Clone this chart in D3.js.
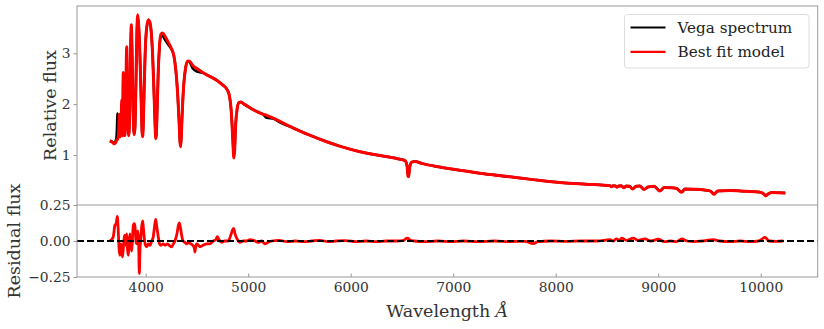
<!DOCTYPE html>
<html>
<head>
<meta charset="utf-8">
<script src="https://cdn.jsdelivr.net/npm/d3@7"></script>
<style>
  body { margin:0; background:#fff; }
  text { font-family:"DejaVu Serif", serif; fill:#333; }
  .ticklabel { font-size:13.8px; }
  .axislabel { font-size:17.5px; }
  .legendlabel { font-size:15.2px; fill:#222; }
</style>
</head>
<body>
<div id="chart"></div>
<script>
// model spectrum (best fit), wavelength in Angstrom
const modelWave = [3650,3665,3680,3692,3705,3718,3730,3738,3742,3746,3752,3760,3766,3771,3776,3781,3788,3796,3805,3815,3822,3830,3836,3843,3850,3860,3868,3876,3883,3889,3896,3905,3914,3922,3930,3940,3950,3958,3965,3970,3976,3985,3995,4008,4025,4040,4055,4068,4080,4090,4098,4104,4112,4122,4135,4150,4165,4190,4220,4250,4275,4295,4312,4325,4335,4340,4346,4356,4370,4390,4410,4430,4460,4500,4550,4600,4650,4700,4750,4790,4815,4835,4850,4858,4862,4868,4878,4892,4910,4930,4960,5000,5050,5100,5150,5180,5250,5310,5440,5600,5766,5900,6091,6300,6481,6530,6550,6560,6565,6575,6595,6627,6700,6850,7066,7300,7554,7800,8066,8300,8500,8530,8545,8560,8585,8598,8615,8640,8665,8690,8720,8750,8785,8820,8862,8900,8960,9015,9060,9120,9180,9229,9260,9350,9450,9510,9546,9580,9700,9850,9980,10030,10049,10070,10110,10180,10240];
const modelFlux = [1.27,1.26,1.24,1.22,1.24,1.29,1.33,1.55,1.80,1.45,1.36,1.50,2.08,1.45,1.38,2.62,1.45,1.38,2.00,3.13,2.20,1.45,1.38,1.80,2.70,3.56,2.90,2.00,1.50,1.40,1.55,2.40,3.40,3.76,3.60,3.20,2.55,1.90,1.45,1.36,1.55,2.30,3.00,3.48,3.66,3.62,3.40,2.95,2.30,1.70,1.32,1.40,1.90,2.60,3.15,3.38,3.40,3.33,3.22,3.10,2.95,2.65,2.20,1.70,1.25,1.16,1.30,1.80,2.35,2.72,2.85,2.84,2.76,2.70,2.63,2.57,2.52,2.46,2.38,2.30,2.18,1.85,1.30,0.97,0.94,1.10,1.60,1.90,2.03,2.04,2.00,1.95,1.89,1.84,1.80,1.78,1.72,1.66,1.53,1.39,1.26,1.17,1.065,0.985,0.915,0.89,0.78,0.58,0.57,0.75,0.86,0.87,0.83,0.77,0.70,0.63,0.57,0.51,0.455,0.425,0.40,0.395,0.375,0.395,0.39,0.365,0.39,0.395,0.355,0.39,0.385,0.33,0.385,0.39,0.32,0.37,0.385,0.29,0.36,0.355,0.34,0.265,0.33,0.325,0.31,0.29,0.225,0.29,0.30,0.285,0.27,0.235,0.195,0.23,0.26,0.255,0.25];

// observed Vega spectrum
const vegaWave = [3650,3665,3680,3692,3705,3714,3720,3724,3728,3738,3746,3752,3760,3766,3771,3776,3781,3788,3796,3805,3815,3822,3830,3836,3843,3850,3860,3868,3876,3883,3889,3896,3905,3914,3922,3930,3940,3950,3958,3965,3970,3976,3985,3995,4008,4025,4040,4055,4068,4080,4090,4098,4104,4112,4122,4135,4150,4165,4190,4220,4250,4275,4295,4312,4325,4335,4340,4346,4356,4370,4390,4410,4430,4460,4500,4550,4600,4650,4700,4750,4790,4815,4835,4850,4858,4862,4868,4878,4892,4910,4930,4960,5000,5050,5100,5150,5180,5250,5310,5440,5600,5766,5900,6091,6300,6481,6530,6550,6560,6565,6575,6595,6627,6700,6850,7066,7300,7554,7800,8066,8300,8500,8530,8545,8560,8585,8598,8615,8640,8665,8690,8720,8750,8785,8820,8862,8900,8960,9015,9060,9120,9180,9229,9260,9350,9450,9510,9546,9580,9700,9850,9980,10030,10049,10070,10110,10180,10240];
const vegaFlux = [1.28,1.27,1.25,1.24,1.27,1.33,1.55,1.82,1.42,1.40,1.42,1.41,1.44,2.00,1.46,1.42,2.55,1.46,1.42,1.95,3.05,2.20,1.46,1.40,1.80,2.70,3.50,2.95,2.00,1.50,1.42,1.55,2.40,3.35,3.70,3.58,3.20,2.55,1.90,1.46,1.38,1.55,2.30,3.00,3.46,3.62,3.60,3.40,2.95,2.30,1.70,1.34,1.40,1.90,2.60,3.12,3.33,3.34,3.26,3.17,3.08,2.95,2.65,2.20,1.70,1.26,1.18,1.30,1.80,2.35,2.72,2.84,2.82,2.70,2.64,2.62,2.57,2.52,2.46,2.38,2.30,2.18,1.85,1.32,1.02,0.99,1.12,1.60,1.90,2.03,2.04,2.00,1.95,1.89,1.84,1.79,1.73,1.71,1.64,1.53,1.39,1.26,1.17,1.065,0.985,0.915,0.89,0.79,0.60,0.59,0.75,0.86,0.87,0.83,0.77,0.70,0.63,0.57,0.51,0.455,0.425,0.40,0.395,0.38,0.395,0.39,0.37,0.39,0.395,0.36,0.39,0.385,0.335,0.385,0.39,0.325,0.37,0.385,0.295,0.36,0.355,0.34,0.27,0.33,0.325,0.31,0.29,0.23,0.29,0.30,0.285,0.27,0.235,0.20,0.23,0.26,0.255,0.25];

// residual flux
const resWave = [3651,3668,3684,3700,3712,3723,3732,3740,3749,3757,3766,3773,3781,3790,3798,3806,3815,3823,3831,3839,3847,3856,3864,3872,3880,3888,3896,3905,3913,3922,3930,3938,3945,3951,3961,3971,3979,3988,3998,4010,4025,4042,4058,4074,4088,4098,4108,4123,4135,4150,4170,4190,4210,4230,4254,4270,4286,4305,4320,4328,4340,4351,4365,4383,4400,4416,4440,4460,4475,4481,4488,4498,4515,4530,4560,4595,4625,4660,4685,4699,4715,4741,4770,4806,4830,4850,4858,4872,4888,4905,4920,4950,4985,5020,5050,5080,5099,5130,5164,5190,5230,5300,5380,5460,5540,5620,5700,5780,5860,5950,6050,6150,6250,6350,6450,6520,6546,6562,6580,6620,6720,6850,6980,7100,7250,7400,7550,7700,7781,7830,7950,8100,8250,8400,8480,8530,8560,8590,8620,8644,8690,8757,8800,8871,8930,9001,9060,9120,9180,9229,9280,9350,9430,9538,9600,9700,9800,9900,9980,10042,10080,10150,10218];
const resFlux = [0,0.01,0.03,0.11,0.12,0.17,0.08,-0.05,-0.10,-0.02,-0.05,-0.11,-0.06,0.02,0.04,-0.03,0.05,-0.06,-0.10,0.00,0.05,-0.03,-0.07,0.03,0.11,0.12,0.10,0.00,-0.02,0.07,0.02,-0.226,-0.05,0.00,0.10,0.14,0.08,0.01,-0.03,-0.04,-0.02,-0.03,0.00,0.03,0.11,0.15,0.10,0.03,-0.02,-0.03,-0.02,-0.03,-0.02,-0.03,-0.04,-0.02,0.00,0.05,0.11,0.125,0.09,0.04,0.00,-0.01,-0.02,-0.01,-0.02,-0.03,-0.05,-0.077,-0.04,-0.02,-0.03,-0.04,-0.03,-0.02,-0.02,0.00,0.01,0.03,0.01,-0.01,0.00,0.00,0.04,0.08,0.087,0.05,0.02,0.00,-0.01,0.00,0.00,0.01,0.005,-0.005,-0.01,0.00,-0.02,-0.01,0.00,0.005,-0.005,0.00,-0.005,0.00,0.005,-0.005,0.00,0.003,-0.004,0.00,-0.005,0.00,0.00,0.005,0.02,0.018,0.005,0.00,-0.005,0.00,-0.004,0.00,-0.005,0.00,-0.004,-0.002,-0.018,-0.004,0.00,-0.003,0.00,0.00,0.005,0.01,0.00,0.015,0.005,0.02,0.005,0.02,0.005,0.015,0.00,0.012,-0.005,0.00,-0.005,0.015,0.00,-0.005,0.00,0.01,0.00,-0.004,0.00,-0.004,0.00,0.025,0.00,-0.003,0.00];

const xTicks = [4000,5000,6000,7000,8000,9000,10000];
const fluxTicks = [1,2,3];
const resTicks = [-0.25,0,0.25];
const legendNames = ["Vega spectrum","Best fit model"];
const legendColors = ["#000000","#ff0000"];

const W = 824, H = 329;
const pLeft = 77, pRight = 817.7, pTop = 6, pMid = 205, pBottom = 277;
const spine = "#999999";

let svg = d3.select("#chart")
    .append("svg")
    .attr("width", W)
    .attr("height", H);

let x = d3.scaleLinear().domain([3330, 10556]).range([pLeft, pRight]);
let yTop = d3.scaleLinear().domain([0.016, 3.93]).range([pMid, pTop]);
let yRes = d3.scaleLinear().domain([-0.25, 0.25]).range([pBottom, pMid]);

// clip so lines stay in their panel
svg.append("clipPath").attr("id","cliptop")
  .append("rect").attr("x",pLeft).attr("y",pTop).attr("width",pRight-pLeft).attr("height",pMid-pTop);
svg.append("clipPath").attr("id","clipres")
  .append("rect").attr("x",pLeft).attr("y",pMid).attr("width",pRight-pLeft).attr("height",pBottom-pMid);

let lineTop = d3.line()
    .x(function(d){ return x(d[0]); })
    .y(function(d){ return yTop(d[1]); })
    .curve(d3.curveMonotoneX);

let lineRes = d3.line()
    .x(function(d){ return x(d[0]); })
    .y(function(d){ return yRes(d[1]); })
    .curve(d3.curveMonotoneX);

let vega = vegaWave.map(function(w,i){ return [w, vegaFlux[i]]; });
let model = modelWave.map(function(w,i){ return [w, modelFlux[i]]; });
let res = resWave.map(function(w,i){ return [w, resFlux[i]]; });

svg.append("path")
    .datum(vega)
    .attr("clip-path","url(#cliptop)")
    .attr("d", lineTop)
    .attr("fill","none")
    .attr("stroke","#000")
    .attr("stroke-width",2.5)
    .attr("stroke-linejoin","round");

svg.append("path")
    .datum(model)
    .attr("clip-path","url(#cliptop)")
    .attr("d", lineTop)
    .attr("fill","none")
    .attr("stroke","#ff0000")
    .attr("stroke-width",3)
    .attr("stroke-linejoin","round");

svg.append("path")
    .datum(res)
    .attr("clip-path","url(#clipres)")
    .attr("d", lineRes)
    .attr("fill","none")
    .attr("stroke","#ff0000")
    .attr("stroke-width",2.8)
    .attr("stroke-linejoin","round");

// zero line
svg.append("line")
    .attr("x1", pLeft).attr("x2", pRight)
    .attr("y1", yRes(0)).attr("y2", yRes(0))
    .attr("stroke","#000")
    .attr("stroke-width",2)
    .attr("stroke-dasharray","7,3");

// spines
svg.append("rect")
    .attr("x",pLeft).attr("y",pTop)
    .attr("width",pRight-pLeft).attr("height",pBottom-pTop)
    .attr("fill","none").attr("stroke",spine).attr("stroke-width",1);
svg.append("line")
    .attr("x1",pLeft).attr("x2",pRight).attr("y1",pMid).attr("y2",pMid)
    .attr("stroke",spine).attr("stroke-width",1);

// axes
let axTop = svg.append("g")
    .attr("transform","translate("+pLeft+",0)")
    .call(d3.axisLeft(yTop).tickValues(fluxTicks).tickSize(3.5).tickPadding(3).tickFormat(d3.format("d")));
let axRes = svg.append("g")
    .attr("transform","translate("+pLeft+",0)")
    .call(d3.axisLeft(yRes).tickValues(resTicks).tickSize(3.5).tickPadding(3).tickFormat(d3.format(".2f")));
let axX = svg.append("g")
    .attr("transform","translate(0,"+pBottom+")")
    .call(d3.axisBottom(x).tickValues(xTicks).tickSize(0).tickPadding(5).tickFormat(d3.format("d")));
axX.selectAll(".tick").append("line")
    .attr("y1",0).attr("y2",-3.5)
    .attr("stroke",spine);

[axTop, axRes, axX].forEach(function(a){
  a.select(".domain").remove();
  a.selectAll(".tick line").attr("stroke",spine);
  a.selectAll(".tick text")
    .attr("class","ticklabel")
    .attr("fill","#333")
    .style("font-family","DejaVu Serif");
});

// axis labels
svg.append("text")
    .attr("class","axislabel")
    .attr("transform","translate(56,"+((pTop+pMid)/2)+") rotate(-90)")
    .style("text-anchor","middle")
    .text("Relative flux");

svg.append("text")
    .attr("class","axislabel")
    .attr("transform","translate(20,"+((pMid+pBottom)/2)+") rotate(-90)")
    .style("text-anchor","middle")
    .text("Residual flux");

let xl = svg.append("text")
    .attr("class","axislabel")
    .attr("x",(pLeft+pRight)/2)
    .attr("y",317)
    .style("text-anchor","middle");
xl.append("tspan").text("Wavelength ");
xl.append("tspan").style("font-style","italic").text("Å");

// legend
let lg = svg.append("g").attr("transform","translate(624.5,14.5)");
lg.append("rect")
    .attr("width",184.5).attr("height",53.5)
    .attr("rx",3).attr("ry",3)
    .attr("fill","#fff").attr("fill-opacity",0.8)
    .attr("stroke","#dddddd").attr("stroke-width",1);

lg.selectAll(".legline")
    .data(legendNames)
  .enter().append("line")
    .attr("x1",6).attr("x2",41)
    .attr("y1",function(d,i){ return 13 + i*24.3; })
    .attr("y2",function(d,i){ return 13 + i*24.3; })
    .attr("stroke",function(d,i){ return legendColors[i]; })
    .attr("stroke-width",2.2);

lg.selectAll(".legtext")
    .data(legendNames)
  .enter().append("text")
    .attr("class","legendlabel")
    .attr("x",53)
    .attr("y",function(d,i){ return 18.5 + i*24.3; })
    .text(function(d){ return d; });
</script>
</body>
</html>
